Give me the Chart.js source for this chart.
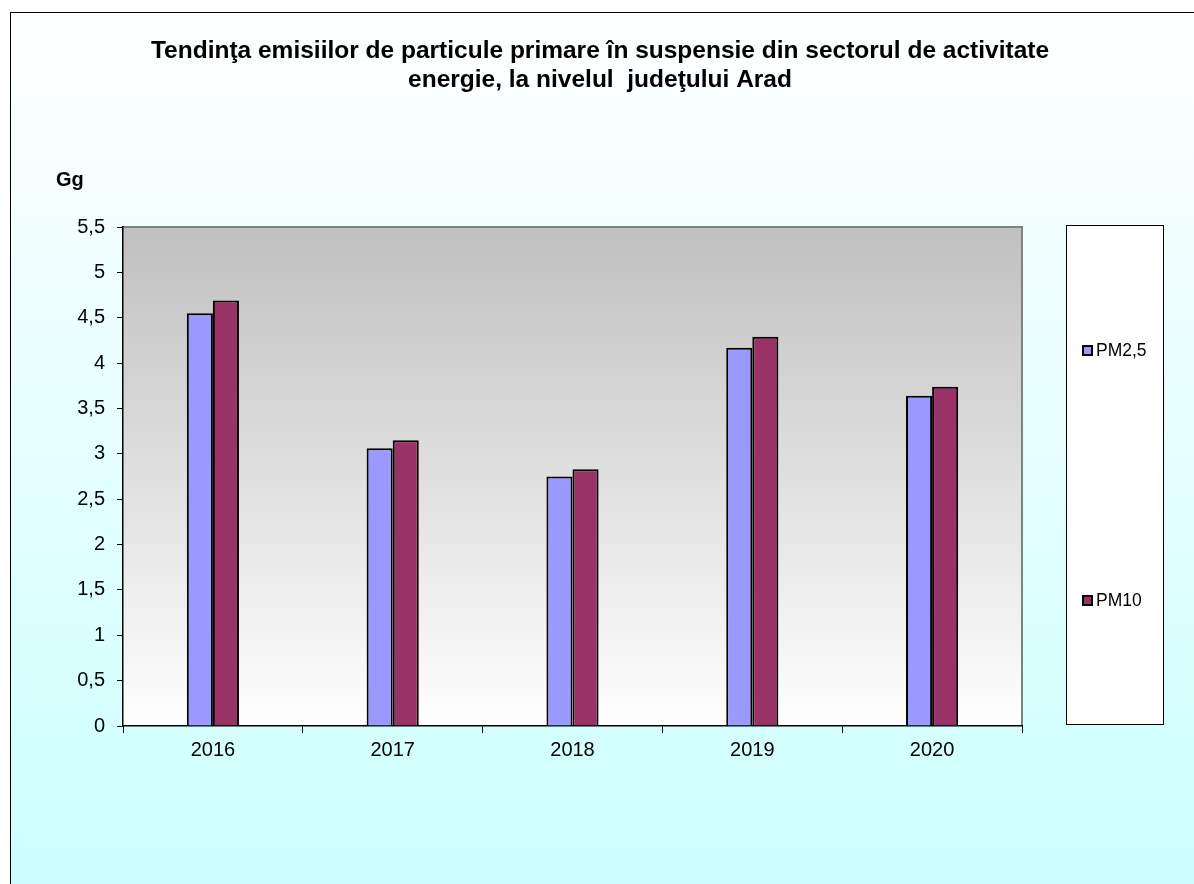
<!DOCTYPE html>
<html lang="ro">
<head>
<meta charset="UTF-8">
<title>Emisii PM Arad</title>
<style>
  html, body { margin: 0; padding: 0; background: #fff; }
  #wrap { width: 1194px; height: 884px; }
</style>
</head>
<body>
<div id="wrap"><canvas id="grafic" width="1194" height="884"></canvas></div>
<script src="https://cdn.jsdelivr.net/npm/chart.js"></script>
<script>
  // date (Gg)
  var ani = ["2016", "2017", "2018", "2019", "2020"];
  var pm25 = [4.55, 3.06, 2.75, 4.17, 3.64];
  var pm10 = [4.69, 3.15, 2.83, 4.29, 3.74];
  var serii = ["PM2,5", "PM10"];
  var titlu = [
    "Tendinţa emisiilor de particule primare în suspensie din sectorul de activitate",
    "energie, la nivelul  judeţului Arad"
  ];
  var unitate = "Gg";

  var fontul = "'Liberation Sans', Arial, sans-serif";

  // fundal, zona grafic, titlu, legenda
  const decor = {
    id: "decor",
    beforeDraw(chart) {
      const ctx = chart.ctx;
      const a = chart.chartArea;
      ctx.save();
      let g = ctx.createLinearGradient(0, 12, 0, 884);
      g.addColorStop(0, "#ffffff");
      g.addColorStop(1, "#ccffff");
      ctx.fillStyle = g;
      ctx.fillRect(10, 12, 1200, 880);
      ctx.strokeStyle = "#000";
      ctx.lineWidth = 1;
      ctx.strokeRect(10.5, 12.5, 1200, 880);

      let g2 = ctx.createLinearGradient(0, a.top, 0, a.bottom);
      g2.addColorStop(0, "#c0c0c0");
      g2.addColorStop(1, "#ffffff");
      ctx.fillStyle = g2;
      ctx.fillRect(a.left, a.top, a.right - a.left, a.bottom - a.top);
      ctx.strokeStyle = "#808080";
      ctx.lineWidth = 2;
      ctx.beginPath();
      ctx.moveTo(a.left, a.top);
      ctx.lineTo(a.right, a.top);
      ctx.lineTo(a.right, a.bottom);
      ctx.stroke();

      ctx.fillStyle = "#000";
      ctx.textAlign = "center";
      ctx.textBaseline = "middle";
      ctx.font = "bold 24.5px " + fontul;
      ctx.fillText(titlu[0], 600, 51);
      ctx.fillText(titlu[1], 600, 80);
      ctx.font = "bold 20px " + fontul;
      ctx.textAlign = "left";
      ctx.fillText(unitate, 56, 180);
      ctx.restore();
    },
    afterDraw(chart) {
      const ctx = chart.ctx;
      ctx.save();
      ctx.fillStyle = "#ffffff";
      ctx.fillRect(1066, 225, 97, 499);
      ctx.strokeStyle = "#000";
      ctx.lineWidth = 1;
      ctx.strokeRect(1066.5, 225.5, 97, 499);
      const ys = [350, 600];
      chart.data.datasets.forEach(function (ds, i) {
        ctx.fillStyle = ds.backgroundColor;
        ctx.fillRect(1083, ys[i] - 4, 9, 9);
        ctx.strokeStyle = "#000";
        ctx.lineWidth = 2;
        ctx.strokeRect(1083, ys[i] - 4, 9, 9);
        ctx.fillStyle = "#000";
        ctx.font = "17.5px " + fontul;
        ctx.textAlign = "left";
        ctx.textBaseline = "middle";
        ctx.fillText(ds.label, 1096, ys[i] + 1);
      });
      ctx.restore();
    }
  };

  const config = {
    type: "bar",
    data: {
      labels: ani,
      datasets: [
        {
          label: serii[0],
          data: pm25,
          backgroundColor: "#9999ff",
          borderColor: "#000",
          borderWidth: 2,
          categoryPercentage: 0.29,
          barPercentage: 1
        },
        {
          label: serii[1],
          data: pm10,
          backgroundColor: "#993366",
          borderColor: "#000",
          borderWidth: 2,
          categoryPercentage: 0.29,
          barPercentage: 1
        }
      ]
    },
    options: {
      responsive: false,
      animation: false,
      layout: { padding: { left: 0, top: 227, right: 172, bottom: 118 } },
      plugins: {
        legend: { display: false },
        title: { display: false },
        tooltip: { enabled: false }
      },
      scales: {
        x: {
          afterFit: function (s) { s.height = 40; },
          grid: {
            offset: true,
            drawOnChartArea: false,
            tickLength: 7,
            color: "#000",
            tickColor: "#000"
          },
          border: { color: "#000", width: 1.5 },
          ticks: {
            color: "#000",
            padding: 5,
            font: { family: fontul, size: 20 }
          }
        },
        y: {
          min: 0,
          max: 5.5,
          afterFit: function (s) { s.width = 123; },
          grid: {
            drawOnChartArea: false,
            tickLength: 6,
            color: "#000",
            tickColor: "#000"
          },
          border: { color: "#000", width: 1.5 },
          ticks: {
            stepSize: 0.5,
            color: "#000",
            padding: 12,
            font: { family: fontul, size: 20 },
            callback: function (v) { return String(v).replace(".", ","); }
          }
        }
      }
    },
    plugins: [decor]
  };

  new Chart(document.getElementById("grafic"), config);
</script>
</body>
</html>
